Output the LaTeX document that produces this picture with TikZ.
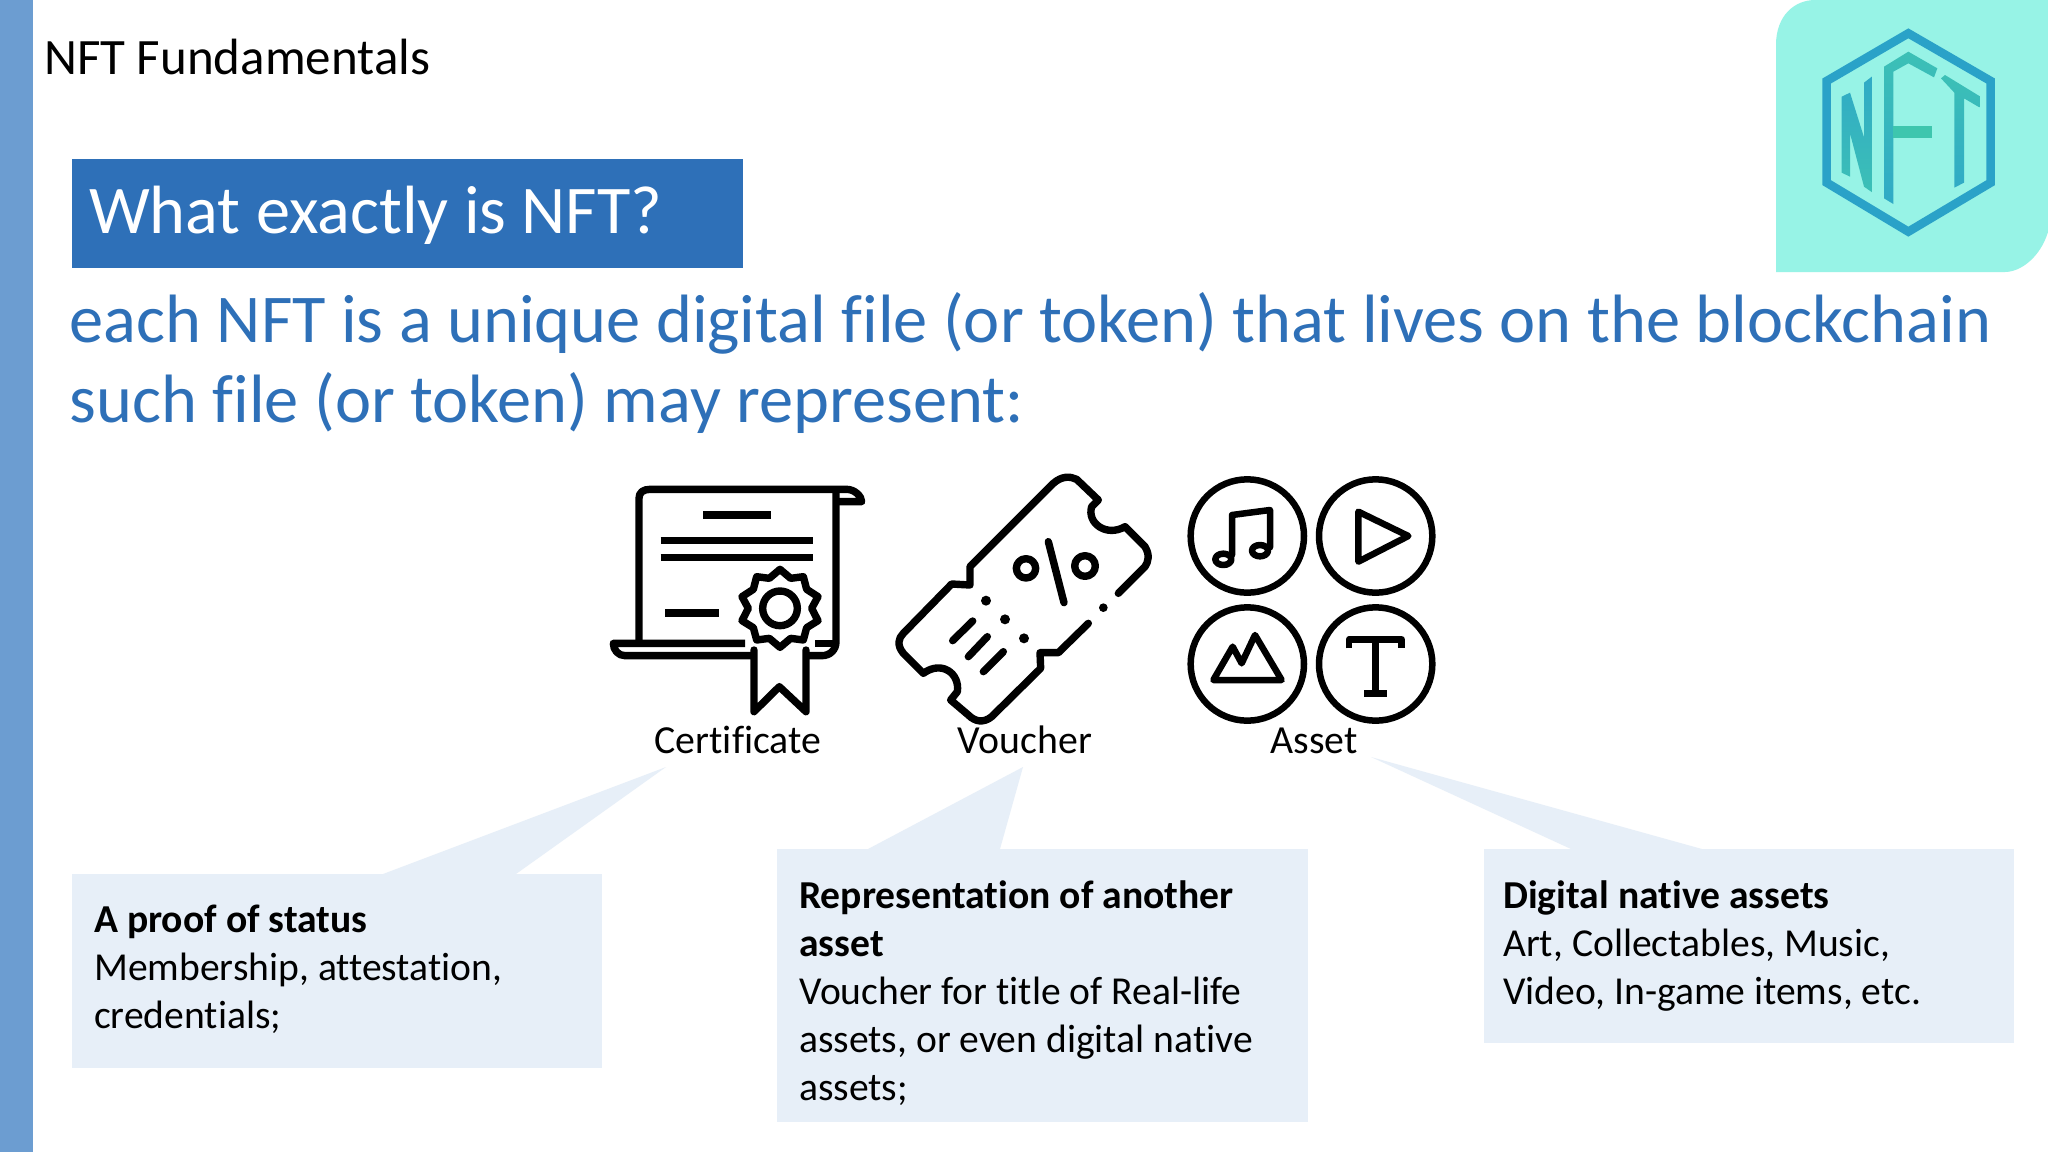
\documentclass[tikz,border=0pt]{standalone}
\usepackage{fontspec}
\setmainfont{Carlito}[Ligatures={NoCommon,TeX}]
\definecolor{barblue}{HTML}{6C9DD1}
\definecolor{titleblue}{HTML}{2E70B8}
\definecolor{paleblue}{HTML}{E7EFF8}
\definecolor{mint}{HTML}{97F3E6}
\definecolor{hexblue}{HTML}{2AA2C8}
\definecolor{logoa}{HTML}{30AAC6}
\definecolor{logob}{HTML}{3CC0B6}
\definecolor{fgreen}{HTML}{3EC6AE}
\tikzset{
 iconline/.style={line width=7.4pt,line cap=round,line join=round,black},
 thinicon/.style={line width=6.5pt,line cap=round,line join=round,black},
 callout/.style={fill=paleblue,draw=none},
 calloutbox/.style={fill=paleblue,draw=none,minimum width=530pt,anchor=north west,inner sep=0pt},
 callouttext/.style={anchor=north west,inner sep=0pt,align=flush left,text width=500pt,font=\fontsize{39.6}{48}\selectfont,text=black},
 iconlabel/.style={anchor=base,inner sep=0pt,font=\fontsize{39.8}{46}\selectfont,text=black},
 zoomed/.style={x=0.33333pt,y=-0.33333pt},
}
\begin{document}
\begin{tikzpicture}[x=1pt,y=-1pt]
\useasboundingbox (0,0) rectangle (2048,1152);
\fill[white] (0,0) rectangle (2048,1152);
\fill[barblue] (0,0) rectangle (33,1152);
% logo panel
\fill[mint] (1776,272) -- (1776,45) .. controls (1776,15) and (1795,0) .. (1815,0) -- (2048,0) -- (2048,232) .. controls (2040,258) and (2020,272) .. (2005,272) -- cycle;
\begin{scope}[shift={(1740,0)},zoomed]
 \draw[hexblue,line width=8.6pt,line join=miter] (505,100) -- (752,243) -- (752,548) -- (505,695) -- (260,548) -- (260,243) -- cycle;
 \shade[top color=logoa,bottom color=logob] (305,290) -- (330,278) -- (372,412) -- (372,248) -- (398,228) -- (398,578) -- (372,560) -- (330,400) -- (330,530) -- (305,518) -- cycle;
 \shade[top color=logob,bottom color=logoa] (432,200) -- (505,155) -- (592,205) -- (582,232) -- (505,190) -- (460,215) -- (460,612) -- (432,595) -- cycle;
 \fill[fgreen] (460,378) -- (575,378) -- (575,415) -- (460,415) -- cycle;
 \shade[top color=logob,bottom color=logoa] (603,235) -- (615,225) -- (718,288) -- (718,322) -- (672,295) -- (672,548) -- (643,563) -- (643,278) -- cycle;
\end{scope}
% heading
\node[anchor=base west,inner sep=0pt,font=\fontsize{51}{58}\selectfont,text=black] (fund) at (44,74) {NFT Fundamentals};
\node[anchor=north west,fill=titleblue,minimum width=671pt,minimum height=109pt,inner sep=0pt] (titlebox) at (72,159) {};
\node[anchor=base west,inner sep=0pt,font=\fontsize{68.3}{76}\selectfont,text=white] (title) at (89,233) {What exactly is NFT?};
\node[anchor=base west,inner sep=0pt,font=\fontsize{68.4}{76}\selectfont,text=titleblue] (lineone) at (69.5,342) {each NFT is a unique digital file (or token) that lives on the blockchain};
\node[anchor=base west,inner sep=0pt,font=\fontsize{68.4}{76}\selectfont,text=titleblue] (linetwo) at (69.5,422) {such file (or token) may represent:};
% certificate icon
\begin{scope}[shift={(590,460)},zoomed]
 \draw[iconline] (147,545) -- (147,115) .. controls (147,97) and (160,88) .. (180,88) -- (770,88) .. controls (795,88) and (815,110) .. (815,125) -- (745,125);
 \draw[iconline] (738,100) -- (738,545) .. controls (738,570) and (720,587) .. (695,587) -- (655,587);
 \draw[iconline,line cap=butt] (465,550) -- (85,550) -- (70,550) .. controls (70,570) and (85,587) .. (105,587) -- (490,587);
 \draw[iconline,line cap=butt] (675,550) -- (738,550);
 \draw[iconline,line cap=butt] (340,165) -- (542,165);
 \draw[iconline,line cap=butt] (212,241) -- (670,241);
 \draw[iconline,line cap=butt] (212,293) -- (670,293);
 \draw[iconline,line cap=butt] (225,459) -- (387,459);
 \draw[iconline] (570,328) -- (602,355) -- (640,350) -- (650,388) -- (684,410) -- (665,445) -- (684,482) -- (650,503) -- (640,540) -- (602,535) -- (570,562) -- (538,535) -- (500,540) -- (490,503) -- (456,482) -- (475,445) -- (456,410) -- (490,388) -- (500,350) -- (538,355) -- cycle;
 \draw[iconline] (570,445) circle[radius=52];
 \draw[iconline] (492,570) -- (492,755) -- (568,680) -- (648,755) -- (648,570);
\end{scope}
% voucher icon
\begin{scope}[shift={(880,460)},zoomed]
 \draw[iconline] (625,490) -- (535,578) -- (480,578) -- (482,625) -- (335,770) .. controls (310,790) and (285,785) .. (265,765) -- (212,720) -- (232,695) .. controls (240,640) and (185,600) .. (130,640) -- (70,580) .. controls (50,555) and (55,535) .. (70,520) -- (215,372) -- (270,375) -- (270,320) -- (520,70) .. controls (545,48) and (570,48) .. (590,58) -- (655,120) -- (635,140) .. controls (620,190) and (680,232) .. (735,200) -- (795,260) .. controls (810,285) and (805,305) .. (795,320) -- (715,400);
 \draw[iconline] (438,325) circle[radius=29];
 \draw[iconline] (615,318) circle[radius=31];
 \draw[iconline] (505,245) -- (552,428);
 \fill[black] (318,422) circle[radius=15] (375,478) circle[radius=15] (432,535) circle[radius=15] (670,443) circle[radius=13];
 \draw[iconline] (218,542) -- (278,483);
 \draw[iconline] (265,590) -- (322,530);
 \draw[iconline] (310,635) -- (370,575);
\end{scope}
% asset icon
\begin{scope}[shift={(1170,460)},zoomed]
 \draw[thinicon] (232,228) circle[radius=170];
 \draw[thinicon] (617,228) circle[radius=170];
 \draw[thinicon] (232,612) circle[radius=170];
 \draw[thinicon] (617,612) circle[radius=170];
 \draw[thinicon] (186,285) -- (186,165) -- (300,150) -- (300,262);
 \draw[thinicon] (160,298) ellipse[x radius=24,y radius=17];
 \draw[thinicon] (270,272) ellipse[x radius=24,y radius=17];
 \draw[thinicon] (565,155) -- (715,228) -- (565,305) -- cycle;
 \draw[thinicon] (130,660) -- (335,660) -- (255,525) -- (215,610) -- (188,560) -- cycle;
 \draw[thinicon,line cap=butt] (537,565) -- (537,538) -- (695,538) -- (695,565);
 \draw[thinicon,line cap=butt] (617,538) -- (617,700);
 \draw[thinicon,line cap=butt] (582,700) -- (650,700);
\end{scope}
% callouts
\node[calloutbox,minimum height=194pt] (boxa) at (72,874) {};
\node[calloutbox,minimum width=531pt,minimum height=273pt] (boxb) at (777,849) {};
\node[calloutbox,minimum height=194pt] (boxc) at (1484,849) {};
\coordinate (tipa) at (666,767);
\coordinate (tipb) at (1023,767);
\coordinate (tipc) at (1371,757);
\fill[callout] (383,874) -- (tipa) -- (516,874) -- cycle;
\fill[callout] (868,849) -- (tipb) -- (1000,849) -- cycle;
\fill[callout] (1571,849) -- (tipc) -- (1702,849) -- cycle;
\node[iconlabel] (cert) at (738,753) {Certificate};
\node[iconlabel] (vouch) at (1025,753) {Voucher};
\node[iconlabel] (asset) at (1314,753) {Asset};
\node[callouttext] (texta) at (94,905) {\textbf{A proof of status}\\Membership, attestation,\\credentials;};
\node[callouttext] (textb) at (799,880.5) {\textbf{Representation of another}\\\textbf{asset}\\Voucher for title of Real-life\\assets, or even digital native\\assets;};
\node[callouttext] (textc) at (1503,880.5) {\textbf{Digital native assets}\\Art, Collectables, Music,\\Video, In-game items, etc.};
\end{tikzpicture}
\end{document}
